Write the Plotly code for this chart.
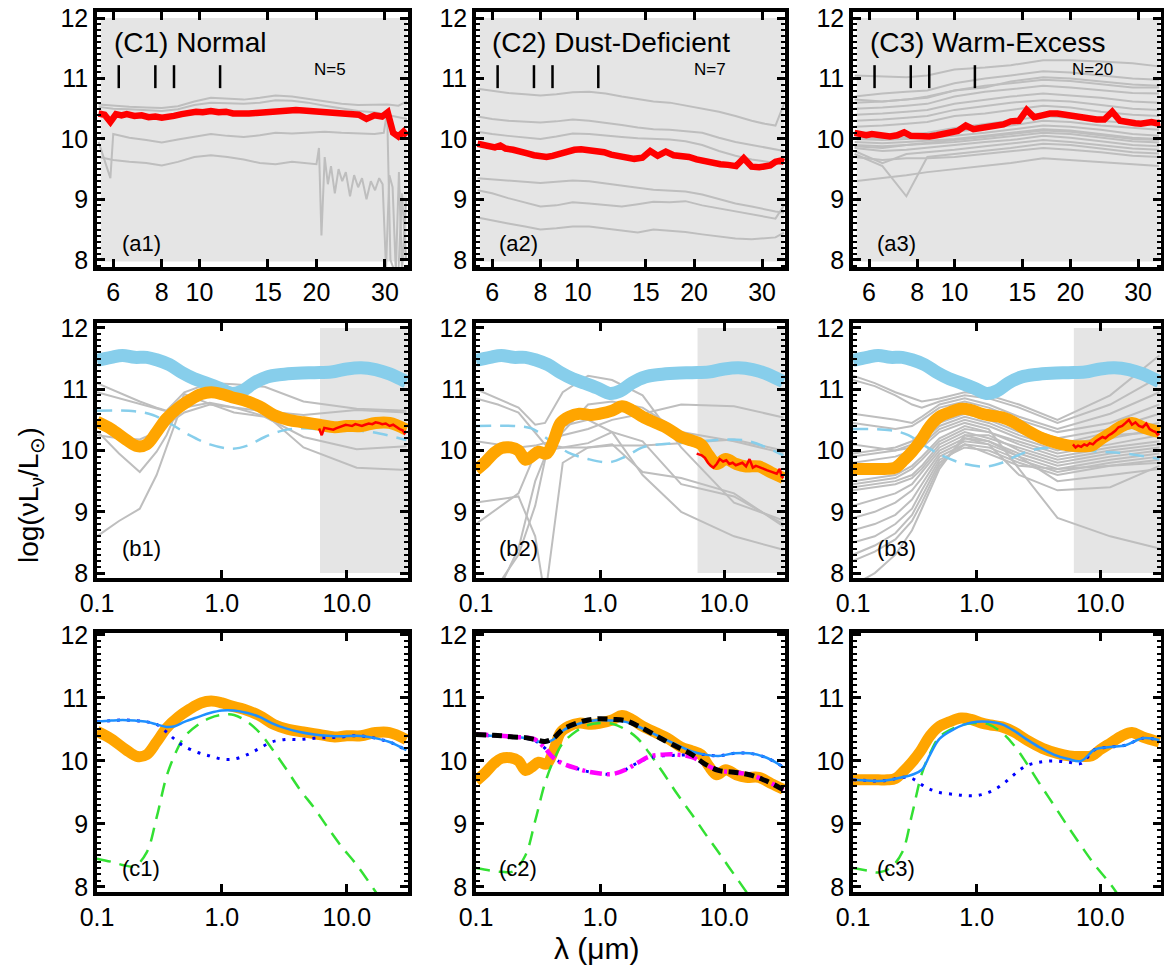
import math
import plotly.graph_objects as go

W, H = 1164, 967

# ---------------- top row: mid-IR spectra ----------------
IRS_WL = [5.5, 5.7, 5.9, 6.1, 6.3, 6.5, 6.8, 7.1, 7.4, 7.7, 8.0, 8.3, 8.6, 9.0, 9.4, 9.8,
          10.2, 10.7, 11.2, 11.7, 12.2, 12.8, 13.4, 14.0, 14.7, 15.4, 16.1, 16.9, 17.7, 18.5,
          19.4, 20.3, 21.3, 22.3, 23.4, 24.5, 25.7, 26.9, 28.2, 29.5, 30.5, 31.5, 32.5, 33.5, 34.2]
A1_RED = [10.42, 10.40, 10.28, 10.41, 10.39, 10.41, 10.38, 10.39, 10.36, 10.37, 10.35,
          10.36, 10.38, 10.41, 10.43, 10.45, 10.44, 10.46, 10.44, 10.45, 10.42,
          10.41, 10.42, 10.43, 10.44, 10.45, 10.47, 10.46, 10.48, 10.47, 10.46,
          10.45, 10.44, 10.43, 10.42, 10.41, 10.40, 10.33, 10.39, 10.37, 10.44,
          10.10, 10.04, 10.12, 10.05]
A2_RED = [9.92, 9.90, 9.88, 9.86, 9.89, 9.84, 9.82, 9.80, 9.76, 9.73, 9.71,
          9.70, 9.72, 9.76, 9.80, 9.82, 9.83, 9.82, 9.81, 9.78, 9.74,
          9.72, 9.68, 9.67, 9.69, 9.80, 9.72, 9.79, 9.73, 9.72, 9.70,
          9.66, 9.63, 9.60, 9.58, 9.57, 9.55, 9.68, 9.54, 9.53, 9.54,
          9.56, 9.62, 9.64, 9.62]
A3_RED = [10.10, 10.08, 10.06, 10.08, 10.07, 10.05, 10.04, 10.06, 10.11, 10.05, 10.04,
          10.05, 10.04, 10.06, 10.08, 10.10, 10.13, 10.22, 10.16, 10.18, 10.20,
          10.22, 10.24, 10.29, 10.30, 10.48, 10.36, 10.39, 10.42, 10.42, 10.40,
          10.36, 10.34, 10.33, 10.32, 10.32, 10.45, 10.30, 10.27, 10.26, 10.25,
          10.27, 10.28, 10.26, 10.27]

IRS_WL_C = [5.5, 6.0, 6.6, 7.3, 8.0, 8.8, 9.7, 10.7, 11.8, 13.0, 14.3, 15.7, 17.3, 19.0,
            21.0, 23.2, 25.6, 28.2, 30.5, 32.5, 34.2]
A1_G3_WL = [5.5, 5.9, 6.0, 6.6, 7.3, 8.0, 8.8, 9.7, 10.7, 11.8, 13.0, 14.3, 15.7, 17.3, 19.0,
            21.0, 23.2, 25.6, 28.2, 29.8, 30.4, 31.0, 31.8, 32.5, 33.2, 34.0]
A1_G4_WL = [5.5, 6.0, 6.6, 7.3, 8.0, 8.8, 9.7, 10.7, 11.8, 13.0, 14.3, 15.7, 17.3, 19.0, 20.0,
            20.3, 20.6, 21.0, 21.4, 21.8, 22.3, 22.8, 23.3, 23.8, 24.4, 25.0, 25.6, 26.2, 26.9,
            27.6, 28.3, 29.0, 29.6, 30.2, 30.8, 31.4, 32.0, 32.6, 33.2, 34.0]
A1_GRAY_WL = [IRS_WL_C, IRS_WL_C, A1_G3_WL, A1_G4_WL]
A1_GRAY = [
    [10.57, 10.55, 10.53, 10.52, 10.51, 10.54, 10.62, 10.68, 10.67, 10.65, 10.68, 10.72, 10.70,
     10.66, 10.62, 10.58, 10.56, 10.56, 10.57, 10.55, 10.62],
    [10.53, 10.50, 10.49, 10.47, 10.46, 10.49, 10.56, 10.60, 10.59, 10.58, 10.60, 10.64, 10.63,
     10.60, 10.55, 10.50, 10.46, 10.44, 10.40, 10.36, 10.33],
    [9.95, 9.35, 10.08, 10.02, 9.98, 9.94, 9.99, 10.04, 10.08, 10.05, 10.03, 10.06, 10.10, 10.09,
     10.11, 10.12, 10.10, 10.09, 10.08, 10.10, 10.45, 8.0, 7.8, 7.8, 9.1, 8.0],
    [9.70, 9.65, 9.62, 9.60, 9.56, 9.62, 9.70, 9.73, 9.70, 9.66, 9.60, 9.58, 9.62, 9.60, 9.58,
     9.85, 8.40, 9.70, 9.25, 9.55, 9.10, 9.50, 9.30, 9.45, 9.05, 9.40, 9.20, 9.35, 9.00, 9.30,
     9.15, 9.35, 9.25, 7.85, 9.40, 9.20, 7.80, 9.45, 7.80, 9.00],
]
A2_GRAY = [
    [10.83, 10.80, 10.76, 10.74, 10.72, 10.74, 10.77, 10.78, 10.75, 10.70, 10.66, 10.62, 10.60,
     10.55, 10.50, 10.45, 10.38, 10.30, 10.25, 10.22, 10.58],
    [10.37, 10.33, 10.30, 10.28, 10.27, 10.29, 10.32, 10.30, 10.27, 10.23, 10.19, 10.16, 10.15,
     10.13, 10.10, 10.02, 9.95, 9.90, 9.86, 9.82, 9.80],
    [10.12, 10.08, 10.05, 10.02, 10.00, 10.04, 10.09, 10.08, 10.05, 10.03, 10.01, 10.00, 9.99,
     9.96, 9.90, 9.80, 9.72, 9.66, 9.62, 9.60, 9.62],
    [9.35, 9.33, 9.31, 9.28, 9.27, 9.29, 9.31, 9.30, 9.26, 9.22, 9.19, 9.16, 9.15, 9.13, 9.08,
     9.00, 8.93, 8.88, 8.83, 8.80, 8.78],
    [9.15, 9.10, 9.02, 8.95, 8.88, 8.90, 8.95, 8.93, 8.90, 8.88, 8.92, 8.96, 8.95, 8.97, 8.90,
     8.85, 8.80, 8.75, 8.72, 8.68, 8.90],
    [8.70, 8.65, 8.60, 8.55, 8.50, 8.52, 8.55, 8.55, 8.52, 8.48, 8.45, 8.50, 8.48, 8.46, 8.42,
     8.38, 8.35, 8.34, 8.35, 8.37, 8.45],
]
A3_WL = [5.5, 6.5, 7.5, 8.5, 10, 12, 14, 17, 20, 24, 29, 34]
A3_GRAY = [
    [11.05, 11.03, 11.02, 11.05, 11.15, 11.18, 11.22, 11.30, 11.30, 11.28, 11.25, 11.20],
    [10.70, 10.75, 10.78, 10.80, 10.92, 11.00, 11.05, 11.12, 11.10, 11.05, 11.00, 10.98],
    [10.60, 10.62, 10.65, 10.68, 10.80, 10.88, 10.92, 10.98, 10.96, 10.90, 10.85, 10.85],
    [10.50, 10.52, 10.55, 10.58, 10.70, 10.78, 10.82, 10.88, 10.85, 10.80, 10.76, 10.75],
    [10.40, 10.42, 10.45, 10.48, 10.58, 10.65, 10.70, 10.75, 10.72, 10.68, 10.62, 10.60],
    [10.30, 10.32, 10.35, 10.38, 10.48, 10.55, 10.60, 10.64, 10.62, 10.56, 10.50, 10.48],
    [10.20, 10.22, 10.25, 10.28, 10.38, 10.42, 10.48, 10.55, 10.52, 10.45, 10.40, 10.38],
    [10.00, 9.98, 10.00, 10.02, 10.05, 10.10, 10.15, 10.22, 10.20, 10.15, 10.08, 10.05],
    [9.95, 9.93, 9.95, 9.97, 10.00, 10.05, 10.10, 10.16, 10.14, 10.08, 10.02, 10.00],
    [9.90, 9.88, 9.90, 9.92, 9.95, 10.00, 10.04, 10.10, 10.08, 10.02, 9.96, 9.94],
    [9.85, 9.80, 9.82, 9.85, 9.90, 9.95, 9.98, 10.05, 10.02, 9.96, 9.90, 9.88],
    [9.80, 9.60, 9.75, 9.78, 9.82, 9.88, 9.92, 9.98, 9.95, 9.90, 9.84, 9.82],
    [9.75, 9.55, 9.05, 9.70, 9.75, 9.80, 9.85, 9.92, 9.90, 9.84, 9.78, 9.76],
    [9.70, 9.65, 9.68, 9.68, 9.70, 9.75, 9.80, 9.85, 9.82, 9.78, 9.72, 9.70],
    [9.30, 9.35, 9.40, 9.45, 9.50, 9.55, 9.60, 9.68, 9.65, 9.62, 9.58, 9.55],
    [10.08, 10.05, 10.06, 10.10, 10.18, 10.24, 10.30, 10.38, 10.35, 10.30, 10.25, 10.22],
    [10.65, 10.62, 10.65, 10.70, 10.80, 10.85, 10.95, 11.02, 11.00, 10.95, 10.90, 10.88],
    [9.88, 9.85, 9.90, 9.93, 9.98, 10.03, 10.08, 10.14, 10.12, 10.06, 10.00, 9.98],
    [10.02, 10.00, 10.03, 10.05, 10.12, 10.18, 10.22, 10.30, 10.28, 10.22, 10.18, 10.15],
]
PAH_WL = [6.2, 7.7, 8.6, 11.3]
PAH_Y = [10.84, 11.22]

# ---------------- middle row: broadband SEDs ----------------
PHOT_WL = [0.1, 0.15, 0.22, 0.3, 0.36, 0.5, 0.8, 1.25, 2.2, 4.5, 12, 30]
B1_GRAY = [
    [11.10, 10.95, 10.80, 10.70, 10.65, 10.95, 11.10, 11.08, 11.04, 10.80, 10.68, 10.65],
    [10.95, 10.85, 10.76, 10.68, 10.64, 10.70, 10.78, 10.70, 10.64, 10.58, 10.66, 10.62],
    [10.32, 9.95, 9.65, 9.98, 10.25, 10.92, 10.76, 10.62, 10.55, 10.22, 10.02, 10.07],
    [8.60, 8.85, 9.05, 9.60, 10.05, 10.85, 11.05, 11.02, 10.60, 10.05, 9.72, 9.68],
    [10.25, 10.20, 10.18, 10.30, 10.42, 10.62, 10.75, 10.70, 10.56, 10.42, 10.40, 10.38],
]
B2_GRAY = [
    [11.00, 10.85, 10.70, 10.42, 10.45, 10.95, 11.22, 11.15, 10.90, 10.05, 9.15, 8.86],
    [10.85, 10.75, 10.62, 10.30, 10.10, 10.25, 10.35, 10.50, 10.60, 10.75, 10.72, 10.54],
    [10.15, 10.10, 10.05, 10.08, 10.12, 10.05, 10.05, 10.08, 10.08, 10.12, 10.18, 10.00],
    [9.15, 9.20, 9.25, 8.60, 7.60, 9.80, 10.05, 10.10, 9.65, 9.55, 9.30, 8.76],
    [8.80, 9.05, 9.30, 9.95, 10.00, 10.05, 10.12, 10.30, 10.15, 9.45, 9.25, 8.80],
    [7.50, 7.80, 8.30, 9.10, 9.85, 10.30, 10.75, 10.80, 10.70, 10.30, 10.15, 9.96],
    [7.20, 7.70, 8.40, 9.50, 9.90, 10.40, 10.50, 10.30, 9.60, 9.00, 8.60, 8.38],
]
B3_GRAY = [
    [11.22, 11.10, 10.95, 10.85, 10.80, 10.85, 10.95, 10.90, 10.75, 10.50, 10.90, 11.55],
    [11.15, 11.05, 10.90, 10.75, 10.70, 10.80, 10.90, 10.85, 10.70, 10.45, 10.75, 11.20],
    [10.60, 10.55, 10.50, 10.45, 10.55, 10.75, 10.85, 10.75, 10.55, 10.35, 10.60, 10.95],
    [10.45, 10.40, 10.35, 10.40, 10.50, 10.70, 10.80, 10.70, 10.50, 10.30, 10.45, 10.75],
    [9.95, 10.00, 10.05, 10.15, 10.30, 10.55, 10.70, 10.60, 10.40, 10.20, 10.35, 10.60],
    [9.90, 9.95, 10.00, 10.10, 10.20, 10.45, 10.60, 10.50, 10.30, 10.10, 10.30, 10.45],
    [9.80, 9.85, 9.90, 10.00, 10.10, 10.35, 10.50, 10.40, 10.20, 10.00, 10.20, 10.35],
    [9.50, 9.55, 9.60, 9.75, 9.90, 10.20, 10.40, 10.30, 10.15, 9.95, 10.10, 10.25],
    [9.45, 9.50, 9.55, 9.70, 9.85, 10.15, 10.35, 10.30, 10.10, 9.90, 10.05, 10.15],
    [9.40, 9.45, 9.50, 9.60, 9.75, 10.10, 10.30, 10.20, 10.05, 9.85, 10.00, 10.10],
    [9.35, 9.40, 9.45, 9.55, 9.70, 10.05, 10.25, 10.25, 10.00, 9.80, 9.95, 10.05],
    [9.10, 9.20, 9.30, 9.45, 9.65, 10.00, 10.20, 10.15, 9.95, 9.75, 9.90, 10.00],
    [8.90, 9.00, 9.15, 9.35, 9.55, 9.95, 10.15, 10.10, 9.90, 9.70, 9.85, 9.95],
    [8.70, 8.80, 8.95, 9.20, 9.45, 9.90, 10.10, 10.05, 9.85, 9.65, 9.80, 9.90],
    [8.50, 8.60, 8.80, 9.05, 9.35, 9.85, 10.05, 10.00, 9.80, 9.60, 9.75, 9.85],
    [8.30, 8.45, 8.65, 8.95, 9.25, 9.80, 10.10, 9.95, 9.75, 9.70, 9.75, 9.80],
    [8.20, 8.35, 8.55, 8.85, 9.15, 9.75, 10.20, 10.10, 9.60, 9.35, 9.40, 9.75],
    [7.80, 8.00, 8.30, 8.70, 9.05, 9.70, 10.25, 10.15, 9.90, 9.50, 9.60, 9.70],
    [9.65, 9.70, 9.80, 9.95, 10.05, 10.30, 10.45, 10.35, 9.70, 8.90, 8.60, 8.40],
    [10.10, 10.05, 10.00, 10.05, 10.15, 10.40, 10.55, 10.45, 10.25, 10.05, 10.25, 10.30],
]

TPL_WL = [0.1, 0.13, 0.16, 0.2, 0.25, 0.3, 0.38, 0.48, 0.6, 0.75, 0.95, 1.2, 1.45, 1.8, 2.3,
          3.0, 4.0, 5.5, 7.5, 10, 13, 17, 22, 30]
TPL_HIGH = [11.47, 11.52, 11.55, 11.52, 11.52, 11.48, 11.40, 11.27, 11.17, 11.10, 11.02, 10.93,
            10.97, 11.10, 11.20, 11.24, 11.26, 11.27, 11.28, 11.33, 11.35, 11.32, 11.25, 11.12]

DASH_WL = [0.1, 0.2, 0.28, 0.4, 0.55, 0.8, 1.2, 1.6, 2.2, 3.0, 4.0, 6, 10, 16, 30]
B1_DASH = [10.65, 10.64, 10.58, 10.42, 10.25, 10.10, 10.03, 10.08, 10.22, 10.32, 10.36, 10.35, 10.33, 10.30, 10.17]
B2_DASH = [10.40, 10.40, 10.36, 10.15, 9.97, 9.86, 9.81, 9.90, 10.05, 10.10, 10.12, 10.14, 10.18, 10.15, 9.92]
B3_DASH = [10.35, 10.33, 10.25, 10.05, 9.90, 9.78, 9.74, 9.80, 9.93, 10.02, 10.04, 10.02, 9.98, 9.95, 9.86]

O1_WL = [0.1, 0.13, 0.17, 0.21, 0.25, 0.3, 0.36, 0.45, 0.55, 0.68, 0.82, 1.0, 1.2, 1.5, 2.0,
         2.6, 3.4, 4.5, 6, 8, 10, 13, 17, 22, 30]
O1_Y = [10.47, 10.35, 10.18, 10.07, 10.10, 10.30, 10.52, 10.70, 10.82, 10.92, 10.95, 10.92,
        10.87, 10.82, 10.72, 10.58, 10.50, 10.46, 10.42, 10.38, 10.40, 10.40, 10.45, 10.45, 10.34]
O2_WL = [0.1, 0.12, 0.14, 0.16, 0.19, 0.22, 0.25, 0.28, 0.32, 0.37, 0.42, 0.48, 0.56, 0.68,
         0.85, 1.0, 1.25, 1.5, 1.8, 2.2, 2.8, 3.5, 4.5, 5.5, 6.5, 7.5, 8.7, 10.3, 12.5, 15, 19, 24, 30]
O2_Y = [9.68, 9.82, 9.96, 10.04, 10.05, 10.00, 9.85, 9.90, 9.98, 9.95, 10.15, 10.45, 10.55,
        10.60, 10.58, 10.60, 10.65, 10.72, 10.66, 10.55, 10.45, 10.36, 10.22, 10.16, 10.10,
        9.92, 9.78, 9.86, 9.78, 9.74, 9.74, 9.64, 9.55]
O3_WL = [0.1, 0.13, 0.16, 0.19, 0.22, 0.26, 0.3, 0.35, 0.42, 0.5, 0.6, 0.75, 0.9, 1.1, 1.3,
         1.6, 2.0, 2.6, 3.4, 4.5, 5.6, 7, 8.5, 10, 12, 15, 18, 22, 30]
O3_Y = [9.70, 9.70, 9.70, 9.70, 9.72, 9.85, 9.98, 10.15, 10.40, 10.55, 10.62, 10.68, 10.66,
        10.60, 10.57, 10.54, 10.46, 10.32, 10.20, 10.12, 10.08, 10.07, 10.08, 10.18, 10.28,
        10.40, 10.45, 10.38, 10.30]

R_WL = [6.0, 6.3, 6.6, 7.0, 7.4, 7.8, 8.2, 8.7, 9.2, 9.8, 10.4, 11.0, 11.7, 12.4, 13.2, 14.0,
        15.0, 16.0, 17.0, 18.0, 19.2, 20.5, 22.0, 23.5, 25.0, 26.5, 28.0, 29.0, 30.0]
B1_RED = [10.36, 10.25, 10.37, 10.36, 10.35, 10.34, 10.36, 10.38, 10.40, 10.42, 10.41, 10.40,
          10.43, 10.41, 10.40, 10.42, 10.44, 10.43, 10.46, 10.45, 10.43, 10.44, 10.40, 10.42,
          10.38, 10.35, 10.33, 10.28, 10.32]
B2_RED = [9.95, 9.93, 9.92, 9.88, 9.80, 9.75, 9.72, 9.78, 9.86, 9.82, 9.84, 9.78, 9.80, 9.76,
          9.78, 9.80, 9.74, 9.86, 9.72, 9.75, 9.73, 9.70, 9.68, 9.66, 9.64, 9.62, 9.70, 9.58, 9.55]
B3_RED = [10.10, 10.05, 10.08, 10.06, 10.10, 10.08, 10.12, 10.10, 10.15, 10.18, 10.22, 10.20,
          10.25, 10.28, 10.32, 10.38, 10.40, 10.45, 10.50, 10.42, 10.46, 10.40, 10.38, 10.44,
          10.35, 10.32, 10.30, 10.26, 10.28]
IRS_BAND = [6.1, 30.6]

# ---------------- bottom row: model decomposition ----------------
MOD_WL = [0.1, 0.13, 0.16, 0.2, 0.25, 0.3, 0.36, 0.42, 0.5, 0.65, 0.8, 1.0, 1.25, 1.6, 2.0,
          2.5, 3.2, 4.2, 5.5, 7, 9, 12, 16, 22, 30]
C1_TOTAL = [10.62, 10.64, 10.65, 10.64, 10.62, 10.58, 10.54, 10.55, 10.62, 10.70, 10.76, 10.80,
            10.80, 10.76, 10.70, 10.60, 10.52, 10.46, 10.42, 10.40, 10.39, 10.40, 10.37, 10.30, 10.17]
C1_DOT = [10.62, 10.64, 10.65, 10.64, 10.62, 10.58, 10.46, 10.34, 10.23, 10.13, 10.08, 10.03,
          10.03, 10.10, 10.20, 10.30, 10.34, 10.34, 10.36, 10.37, 10.38, 10.40, 10.37, 10.30, 10.17]
C1_STAR = [8.45, 8.40, 8.35, 8.33, 8.55, 9.10, 9.75, 10.10, 10.38, 10.58, 10.68, 10.73, 10.73,
           10.62, 10.45, 10.20, 9.90, 9.55, 9.25, 8.95, 8.65, 8.35, 8.00, 7.60, 7.20]
C2_TOTAL = [10.41, 10.40, 10.39, 10.38, 10.36, 10.32, 10.29, 10.34, 10.48, 10.58, 10.63, 10.65,
            10.64, 10.62, 10.55, 10.46, 10.36, 10.25, 10.15, 10.10, 10.08, 10.12, 10.12, 10.05, 9.90]
C2_BEST = [10.42, 10.41, 10.40, 10.38, 10.37, 10.34, 10.31, 10.36, 10.50, 10.60, 10.65, 10.67,
           10.66, 10.64, 10.56, 10.46, 10.34, 10.22, 10.10, 9.95, 9.85, 9.82, 9.78, 9.68, 9.54]
C2_ALT = [10.42, 10.41, 10.40, 10.38, 10.37, 10.34, 10.20, 10.05, 9.96, 9.88, 9.83, 9.80, 9.79,
          9.86, 9.97, 10.07, 10.10, 10.10, 10.06, 9.95, 9.85, 9.82, 9.78, 9.68, 9.54]
C2_DOT = [10.41, 10.40, 10.39, 10.38, 10.36, 10.32, 10.20, 10.05, 9.96, 9.88, 9.83, 9.80, 9.79,
          9.86, 9.97, 10.05, 10.08, 10.09, 10.10, 10.10, 10.08, 10.12, 10.12, 10.05, 9.90]
C2_STAR = [8.30, 8.26, 8.24, 8.25, 8.50, 9.05, 9.65, 10.00, 10.28, 10.48, 10.57, 10.60, 10.59,
           10.50, 10.36, 10.12, 9.82, 9.47, 9.15, 8.85, 8.55, 8.20, 7.85, 7.45, 7.05]
C3_TOTAL = [9.70, 9.69, 9.68, 9.70, 9.74, 9.78, 9.86, 10.10, 10.35, 10.50, 10.58, 10.62, 10.62,
            10.58, 10.48, 10.35, 10.22, 10.10, 10.03, 10.00, 10.18, 10.22, 10.25, 10.36, 10.33]
C3_DOT = [9.70, 9.69, 9.68, 9.70, 9.74, 9.72, 9.62, 9.55, 9.50, 9.47, 9.45, 9.45, 9.50, 9.62,
          9.78, 9.92, 9.98, 10.00, 9.98, 9.96, 10.18, 10.22, 10.25, 10.36, 10.33]
C3_STAR = [8.30, 8.26, 8.23, 8.30, 8.55, 9.15, 9.80, 10.12, 10.38, 10.52, 10.58, 10.60, 10.58,
           10.45, 10.25, 9.98, 9.65, 9.30, 8.95, 8.65, 8.35, 8.05, 7.70, 7.30, 6.90]

CLASS_TITLES = ["(C1) Normal", "(C2) Dust-Deficient", "(C3) Warm-Excess"]
CLASS_N = ["N=5", "N=7", "N=20"]

# ---------------- styling ----------------
GRAY = "#BEBEBE"
BG = "#E5E5E5"
RED = "#FF0000"
ORANGE = "#FFA500"
SKY = "#87CEEB"
DODGER = "#1E90FF"
BLUE = "#0000FF"
GREEN = "#33E033"
MAGENTA = "#FF00FF"
FONT = "Liberation Sans, Arial, Helvetica, sans-serif"

XDOM = [(97 / W, 408 / W), (476 / W, 785 / W), (853 / W, 1161 / W)]
YDOM = [(1 - 267 / H, 1 - 12 / H), (1 - 578 / H, 1 - 323 / H), (1 - 892 / H, 1 - 633 / H)]
YRANGE = [(7.88, 12.10), (7.92, 12.08), (7.92, 12.03)]

fig = go.Figure()


def ax(r, c):
    i = r * 3 + c + 1
    return ("x" if i == 1 else f"x{i}"), ("y" if i == 1 else f"y{i}")


def line(r, c, x, y, color, width, dash=None, shape="linear", **kw):
    xa, ya = ax(r, c)
    fig.add_trace(go.Scatter(x=x, y=y, mode="lines", xaxis=xa, yaxis=ya,
                             line=dict(color=color, width=width, dash=dash, shape=shape),
                             showlegend=False, hoverinfo="skip", **kw))


# top row
for c in range(3):
    xa, ya = ax(0, c)
    fig.add_shape(type="rect", xref=f"{xa} domain", yref=ya, x0=0.012, x1=0.996, y0=7.97, y1=12.0,
                  fillcolor=BG, line_width=0, layer="below")
for wl, g in zip(A1_GRAY_WL, A1_GRAY):
    line(0, 0, wl, g, GRAY, 2)
line(0, 0, IRS_WL, A1_RED, RED, 6.5)
for g in A2_GRAY:
    line(0, 1, IRS_WL_C, g, GRAY, 2)
line(0, 1, IRS_WL, A2_RED, RED, 6.5)
for g in A3_GRAY:
    line(0, 2, A3_WL, g, GRAY, 2)
line(0, 2, IRS_WL, A3_RED, RED, 6.5)
for c in range(3):
    px, py = [], []
    for w in PAH_WL:
        px += [w, w, None]
        py += [PAH_Y[0], PAH_Y[1], None]
    line(0, c, px, py, "black", 2.5)

# middle row
for c, (gray, dash, oy, owl, red) in enumerate([
        (B1_GRAY, B1_DASH, O1_Y, O1_WL, B1_RED),
        (B2_GRAY, B2_DASH, O2_Y, O2_WL, B2_RED),
        (B3_GRAY, B3_DASH, O3_Y, O3_WL, B3_RED)]):
    xa, ya = ax(1, c)
    fig.add_trace(go.Scatter(x=[IRS_BAND[0], IRS_BAND[1], IRS_BAND[1], IRS_BAND[0], IRS_BAND[0]],
                             y=[8, 8, 12, 12, 8], mode="lines", fill="toself", fillcolor=BG,
                             line=dict(width=0, color=BG), xaxis=xa, yaxis=ya,
                             showlegend=False, hoverinfo="skip"))
    for g in gray:
        line(1, c, PHOT_WL, g, GRAY, 2)
    line(1, c, DASH_WL, dash, SKY, 2.5, dash="15px,9px", shape="spline")
    line(1, c, TPL_WL, TPL_HIGH, SKY, 13, shape="spline")
    line(1, c, owl, oy, ORANGE, 12, shape="spline")
    line(1, c, R_WL, red, RED, 2.5)

# bottom row
for c, (owl, oy) in enumerate([(O1_WL, O1_Y), (O2_WL, O2_Y), (O3_WL, O3_Y)]):
    line(2, c, owl, oy, ORANGE, 11, shape="spline")
line(2, 0, MOD_WL, C1_STAR, GREEN, 2.5, dash="14px,9px", shape="spline")
line(2, 0, MOD_WL, C1_DOT, BLUE, 3, dash="3px,7px", shape="spline")
line(2, 0, MOD_WL, C1_TOTAL, DODGER, 2.5, shape="spline")
line(2, 1, MOD_WL, C2_STAR, GREEN, 2.5, dash="14px,9px", shape="spline")
line(2, 1, MOD_WL, C2_DOT, BLUE, 3, dash="3px,7px", shape="spline")
line(2, 1, MOD_WL, C2_TOTAL, DODGER, 2.5, shape="spline")
line(2, 1, MOD_WL, C2_ALT, MAGENTA, 4.5, dash="12px,5px,3px,5px", shape="spline")
line(2, 1, MOD_WL, C2_BEST, "black", 5, dash="10px,6px", shape="spline")
line(2, 2, MOD_WL, C3_STAR, GREEN, 2.5, dash="14px,9px", shape="spline")
line(2, 2, MOD_WL, C3_DOT, BLUE, 3, dash="3px,7px", shape="spline")
line(2, 2, MOD_WL, C3_TOTAL, DODGER, 2.5, shape="spline")

# axes
layout = dict(width=W, height=H, margin=dict(l=0, r=0, t=0, b=0, pad=0, autoexpand=False),
              paper_bgcolor="white", plot_bgcolor="white",
              font=dict(family=FONT, color="black", size=25), showlegend=False)
for r in range(3):
    for c in range(3):
        i = r * 3 + c + 1
        xn = "xaxis" if i == 1 else f"xaxis{i}"
        yn = "yaxis" if i == 1 else f"yaxis{i}"
        xa, ya = ax(r, c)
        common = dict(showline=True, linewidth=3.5, linecolor="black", mirror="ticks",
                      ticks="inside", ticklen=8, tickwidth=2.5, tickcolor="black",
                      showgrid=False, zeroline=False, automargin=False,
                      tickfont=dict(size=25, family=FONT))
        if r == 0:
            xr = [math.log10(5.45), math.log10(34.4)]
            tv = [6, 8, 10, 15, 20, 30]
            tt = ["6", "8", "10", "15", "20", "30"]
        else:
            xr = [-1.0, math.log10(30.9)]
            tv = [0.1, 1, 10]
            tt = ["0.1", "1.0", "10.0"]
        layout[xn] = dict(domain=list(XDOM[c]), anchor=ya, type="log", range=xr,
                          tickvals=tv, ticktext=tt, **common)
        layout[yn] = dict(domain=list(YDOM[r]), anchor=xa, range=list(YRANGE[r]),
                          tickvals=[8, 9, 10, 11, 12],
                          minor=dict(ticks="inside", ticklen=4, tickwidth=1.5, dtick=0.1,
                                     tickcolor="black", showgrid=False), **common)
fig.update_layout(**layout)

ann = []
title_x = [112, 490, 868]
n_x = [312, 692, 1070]
lab_x = [120, 497, 875]
for c in range(3):
    ann.append(dict(x=title_x[c] / W, y=1 - 42 / H, text=CLASS_TITLES[c], font=dict(size=28)))
    ann.append(dict(x=n_x[c] / W, y=1 - 70 / H, text=CLASS_N[c], font=dict(size=17)))
    for r, yy in enumerate([243, 548, 868]):
        ann.append(dict(x=lab_x[c] / W, y=1 - yy / H, text=f"({'abc'[r]}{c + 1})", font=dict(size=22)))
for a in ann:
    a.update(xref="paper", yref="paper", xanchor="left", yanchor="middle", showarrow=False)
ann.append(dict(x=30 / W, y=1 - 495 / H, xref="paper", yref="paper", showarrow=False,
                text="log(νL<sub>ν</sub>/L<sub>⊙</sub>)", textangle=-90, font=dict(size=28),
                xanchor="center", yanchor="middle"))
ann.append(dict(x=597 / W, y=1 - 948 / H, xref="paper", yref="paper", showarrow=False,
                text="λ (μm)", font=dict(size=30), xanchor="center", yanchor="middle"))
fig.update_layout(annotations=ann)

fig.write_html("out.html", config={"displayModeBar": False},
               post_script="document.body.style.margin='0';")
